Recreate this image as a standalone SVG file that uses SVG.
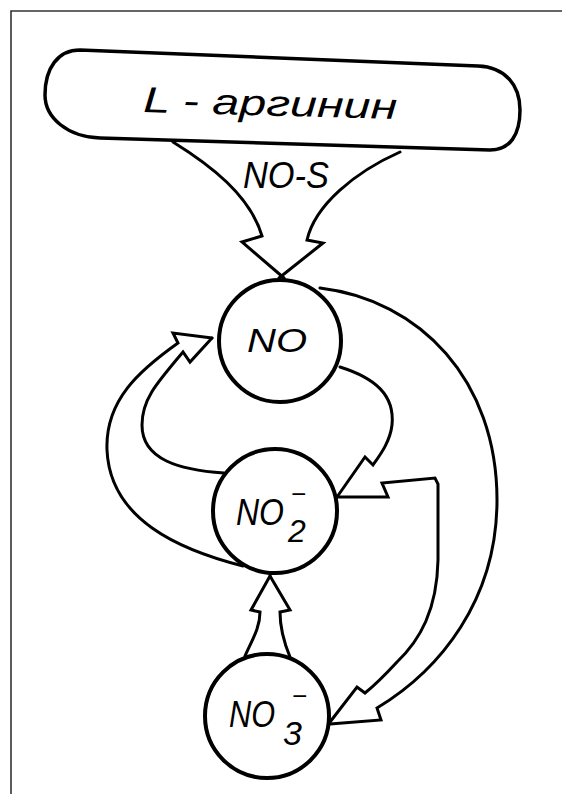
<svg xmlns="http://www.w3.org/2000/svg" width="562" height="794" viewBox="0 0 562 794">
<style>
.frame{stroke:#333;stroke-width:1.6;fill:none}
.node{fill:#fff;stroke:#000;stroke-width:4}
.box{fill:#fff;stroke:#000;stroke-width:3.5}
.conn{fill:none;stroke:#000;stroke-width:3;stroke-linejoin:miter;stroke-linecap:round}
.lbl{font-family:"Liberation Sans",Arial,sans-serif;font-style:italic;fill:#000}
</style>
<rect width="562" height="794" fill="#fff"/>
<path class="frame" d="M11,794 V11 H562"/>
<g id="connectors">
  <!-- NO-S band from L-arginine to NO -->
  <path class="conn" d="M173,142 C210,165 250,195 262,236 L242,242 L284,278"/>
  <path class="conn" d="M400,152 C355,172 315,205 307,240 L323,243 L279,278"/>
  <text class="lbl" x="243" y="188" font-size="36" textLength="86" lengthAdjust="spacingAndGlyphs">NO-S</text>
  <!-- NO to NO2 / NO3 branching band -->
  <path class="conn" d="M320,288 C420,300 497,380 497,500 C497,600 440,670 377,708 L381,720 L330,724"/>
  <path class="conn" d="M340,367 C375,378 395,395 392,425 C390,442 380,455 373,465 L365,457 L337,497"/>
  <path class="conn" d="M337,497 L388,497 L382,483 L435,478 L438,484 L438,560 C437,610 420,640 397,662 C385,675 375,685 365,693 L357,687 L330,722"/>
  <!-- NO2 to NO band (left) -->
  <path class="conn" d="M243,566 C180,550 110,520 107,450 C105,400 140,370 178,343 L173,333 L212,338"/>
  <path class="conn" d="M224,473 C180,470 142,460 142,425 C142,400 155,385 183,352 L190,362 L212,338"/>
  <!-- NO3 to NO2 band -->
  <path class="conn" d="M245,656 C252,640 260,628 260,612 L251,610 L270,576"/>
  <path class="conn" d="M290,657 C283,640 280,628 280,612 L290,610 L270,576"/>
</g>
<g id="node-arginine">
  <path class="box" d="M80,50 L478,66 C505,67 520,85 520,110 C520,135 510,150 490,150 L100,138 C68,137 45,118 45,95 C45,68 58,50 80,50 Z"/>
  <text class="lbl" x="143" y="112" font-size="36" textLength="254" lengthAdjust="spacingAndGlyphs" transform="rotate(1.6 143 112)">L - аргинин</text>
</g>
<g id="node-no">
  <circle class="node" cx="280" cy="341" r="61"/>
  <text class="lbl" x="247" y="352" font-size="34" textLength="60" lengthAdjust="spacingAndGlyphs">NO</text>
</g>
<g id="node-no2">
  <circle class="node" cx="275" cy="511" r="62"/>
  <text class="lbl" x="236" y="525" font-size="36" textLength="48" lengthAdjust="spacingAndGlyphs">NO</text>
  <text class="lbl" x="288" y="542" font-size="32">2</text>
  <text class="lbl" x="291" y="503" font-size="26">−</text>
</g>
<g id="node-no3">
  <circle class="node" cx="267" cy="716" r="62"/>
  <text class="lbl" x="229" y="727" font-size="36" textLength="46" lengthAdjust="spacingAndGlyphs">NO</text>
  <text class="lbl" x="283" y="745" font-size="34">3</text>
  <text class="lbl" x="292" y="705" font-size="26">−</text>
</g>
</svg>
